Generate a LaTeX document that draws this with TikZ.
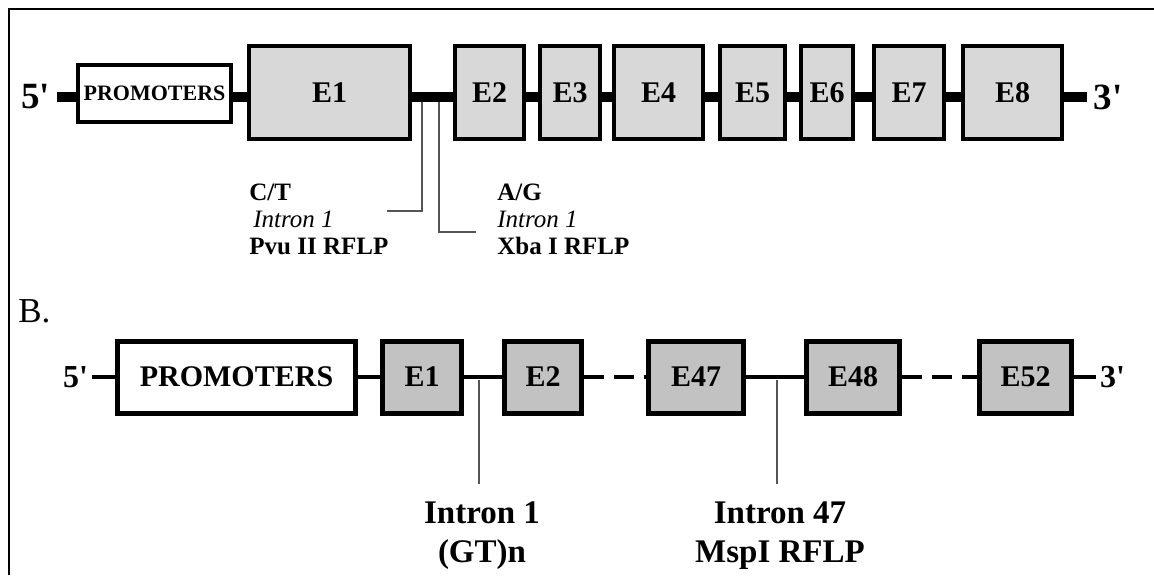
\documentclass[tikz,border=0pt]{standalone}
\usepackage{fontspec}
\setmainfont{Liberation Serif}
\usetikzlibrary{positioning}
\definecolor{exonlight}{RGB}{216,216,216}
\definecolor{exondark}{RGB}{194,194,194}
\definecolor{markgray}{RGB}{85,85,85}

\begin{document}
\begin{tikzpicture}[x=0.5pt,y=-0.5pt,
      topexon/.style={draw,line width=2pt,fill=exonlight,inner sep=0pt,
            minimum height=46.5pt,font=\fontsize{15}{18}\selectfont\bfseries},
      botexon/.style={draw,line width=2.5pt,fill=exondark,inner sep=0pt,
            minimum height=36pt,font=\fontsize{15}{18}\selectfont\bfseries},
      spine/.style={line width=5pt},
      thinspine/.style={line width=1.8pt},
      marker/.style={draw=markgray,line width=1pt},
      sitelabel/.style={inner sep=0pt,align=left,anchor=north west,
            font=\fontsize{12.5}{13.5}\selectfont},
      intronlabel/.style={inner sep=0pt,align=center,anchor=north,
            font=\fontsize{16.5}{19.5}\selectfont\bfseries}]
      \useasboundingbox (0,0) rectangle (1154,575);
      \draw[line width=1pt] (9,575) -- (9,9) -- (1154,9);

      % A. eight exons
      \node[font=\fontsize{18.5}{20}\selectfont\bfseries] (t5) at (35.5,97) {5\textquotesingle};
      \node[font=\fontsize{18.5}{20}\selectfont\bfseries] (t3) at (1108,97) {3\textquotesingle};
      \draw[spine] (t5) -- (t3);
      \node[topexon,fill=white,minimum width=76.5pt,minimum height=28.5pt,
            font=\fontsize{11}{13}\selectfont\bfseries] (tprom) at (154.5,93.5) {PROMOTERS};
      \foreach \ex/\cx/\bw in {E1/329.5/165,E2/489.5/73,E3/570/64,E4/658.5/93,
            E5/752.5/69,E6/827/56,E7/909/74,E8/1012.5/103}
        \node[topexon,minimum width=\bw*0.5pt-2pt] (t\ex) at (\cx,92.5) {\ex};

      \coordinate (pvuSite) at (422,102);
      \coordinate (pvuEnd) at (387,211);
      \draw[marker] (pvuSite) |- (pvuEnd);
      \coordinate (xbaSite) at (439,102);
      \coordinate (xbaEnd) at (476,232);
      \draw[marker] (xbaSite) |- (xbaEnd);
      \node[sitelabel] (pvuText) at (249,184)
        {\textbf{C/T}\\\hspace{2pt}\textit{Intron 1}\\\textbf{Pvu II RFLP}};
      \node[sitelabel] (xbaText) at (497,184)
        {\textbf{A/G}\\\textit{Intron 1}\\\textbf{Xba I RFLP}};

      % B. 52 exons
      \node[anchor=west,inner sep=0pt,font=\fontsize{17.5}{20}\selectfont] (partB) at (18,311) {B.};
      \node[inner xsep=2pt,font=\fontsize{16}{18}\selectfont\bfseries] (b5) at (75.5,377) {5\textquotesingle};
      \node[inner xsep=2pt,font=\fontsize{16}{18}\selectfont\bfseries] (b3) at (1112.5,377) {3\textquotesingle};
      \node[botexon,fill=white,minimum width=119pt] (bprom) at (236.5,377) {PROMOTERS};
      \foreach \ex/\cx/\bw in {E1/422/84,E2/543/82,E47/696/100,E48/853/98,E52/1025.5/97}
        \node[botexon,minimum width=\bw*0.5pt-2.5pt] (b\ex) at (\cx,377) {\ex};
      \draw[thinspine] (b5) -- (bprom) (bprom) -- (bE1) (bE1) -- (bE2)
            (bE47) -- (bE48) (bE52) -- (b3);
      \draw[thinspine,dash pattern=on 10pt off 5pt] (bE2) -- (bE47) (bE48) -- (bE52);

      \coordinate (gtSite) at (479,380);
      \coordinate (gtEnd) at (479,484);
      \draw[marker] (gtSite) -- (gtEnd);
      \node[intronlabel] (gtText) at (482,501) {Intron 1\\(GT)n};
      \coordinate (mspSite) at (777,380);
      \coordinate (mspEnd) at (777,484);
      \draw[marker] (mspSite) -- (mspEnd);
      \node[intronlabel] (mspText) at (780,501) {Intron 47\\MspI RFLP};
\end{tikzpicture}
\end{document}
